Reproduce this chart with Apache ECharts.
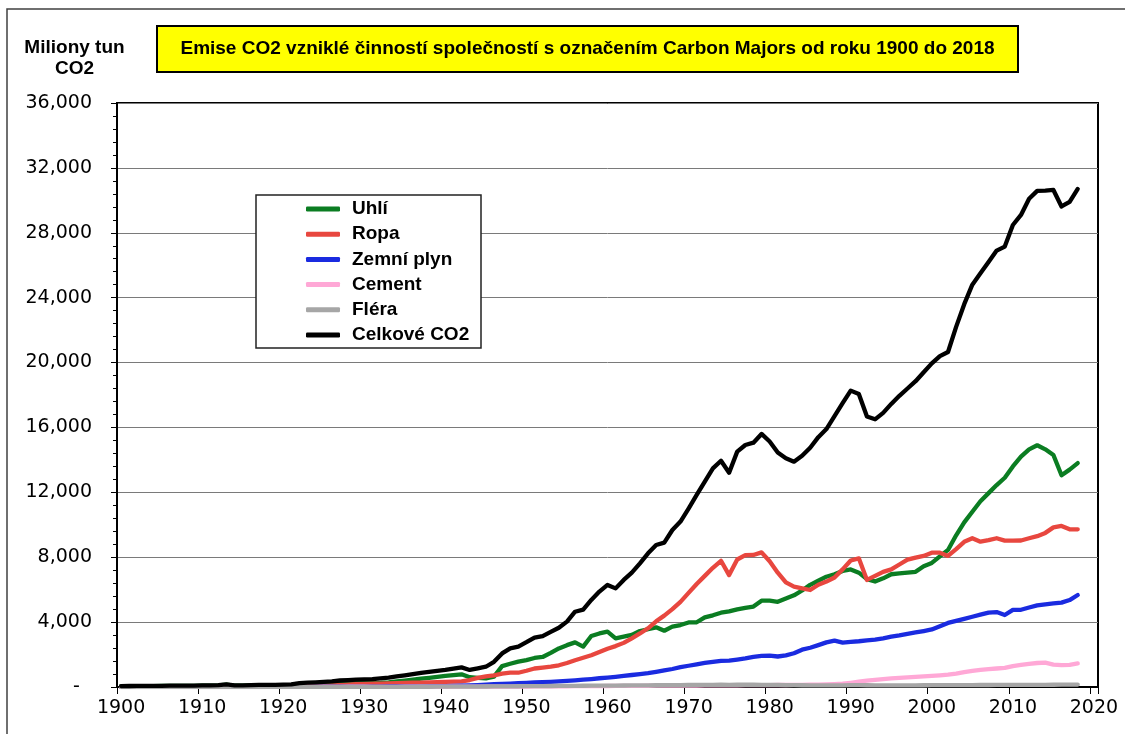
<!DOCTYPE html>
<html>
<head>
<meta charset="utf-8">
<script src="https://cdn.jsdelivr.net/npm/echarts@6/dist/echarts.min.js"></script>
<style>
html,body{margin:0;padding:0;background:#fff;}
#chart{width:1125px;height:734px;}
</style>
</head>
<body>
<div id="chart"></div>
<script>
// Category labels (years) for the x axis
const years = [
1900,1901,1902,1903,1904,1905,1906,1907,1908,1909,
1910,1911,1912,1913,1914,1915,1916,1917,1918,1919,
1920,1921,1922,1923,1924,1925,1926,1927,1928,1929,
1930,1931,1932,1933,1934,1935,1936,1937,1938,1939,
1940,1941,1942,1943,1944,1945,1946,1947,1948,1949,
1950,1951,1952,1953,1954,1955,1956,1957,1958,1959,
1960,1961,1962,1963,1964,1965,1966,1967,1968,1969,
1970,1971,1972,1973,1974,1975,1976,1977,1978,1979,
1980,1981,1982,1983,1984,1985,1986,1987,1988,1989,
1990,1991,1992,1993,1994,1995,1996,1997,1998,1999,
2000,2001,2002,2003,2004,2005,2006,2007,2008,2009,
2010,2011,2012,2013,2014,2015,2016,2017,2018,2019,
2020];

// Values, million tonnes CO2, 1900-2018
const coal = [
50,52,55,58,60,62,66,70,68,72,
78,82,95,150,90,85,92,98,100,102,
110,105,150,170,180,190,200,220,230,245,
250,245,260,290,340,400,450,510,560,620,
680,730,780,600,560,530,640,1290,1430,1560,
1660,1790,1850,2100,2380,2580,2750,2490,3140,3300,
3410,3000,3100,3210,3450,3560,3680,3470,3720,3820,
3980,3990,4290,4420,4580,4660,4790,4880,4960,5320,
5320,5250,5450,5650,5950,6300,6550,6800,6950,7150,
7250,7050,6650,6500,6700,6950,7000,7050,7100,7450,
7650,8050,8450,9350,10150,10800,11450,11950,12450,12900,
13600,14200,14650,14900,14650,14300,13050,13400,13800];

const oil = [
5,5,6,6,7,8,9,10,11,12,
14,16,18,20,20,22,25,28,30,33,
40,45,55,70,80,90,105,120,140,170,
190,200,210,220,235,250,265,270,285,300,
315,330,345,430,560,650,720,830,880,880,
1000,1140,1200,1260,1340,1480,1650,1800,1960,2160,
2360,2520,2720,3000,3300,3620,4050,4400,4800,5250,
5800,6350,6850,7350,7780,6900,7860,8130,8140,8300,
7750,7050,6450,6190,6080,5980,6300,6500,6750,7250,
7800,7930,6600,6850,7100,7250,7550,7850,7980,8080,
8280,8280,8080,8500,8950,9170,8960,9050,9170,9020,
9020,9030,9170,9300,9500,9840,9930,9720,9720];

const gas = [
2,2,2,3,3,3,3,4,4,4,
5,5,5,6,6,6,7,7,8,8,
9,10,11,12,14,16,18,20,22,24,
26,27,28,30,33,36,40,44,48,52,
60,70,80,95,120,150,170,185,210,230,
250,280,300,320,350,380,410,450,490,540,
580,630,690,740,790,850,930,1020,1110,1220,
1310,1400,1480,1550,1610,1630,1690,1760,1850,1920,
1940,1880,1950,2080,2300,2420,2580,2750,2860,2740,
2780,2820,2880,2920,3000,3100,3180,3280,3360,3450,
3550,3750,3950,4080,4200,4330,4460,4580,4620,4440,
4750,4760,4900,5030,5100,5150,5200,5360,5670];

const cement = [
3,3,3,3,4,4,4,4,4,5,
5,5,5,6,5,5,5,6,6,6,
7,7,8,9,10,11,12,13,14,15,
14,12,11,12,13,15,17,18,18,20,
20,21,22,20,18,17,20,24,27,28,
30,33,36,40,43,46,50,53,56,60,
62,64,67,70,73,76,79,82,85,88,
90,93,96,100,102,104,107,110,114,118,
120,122,124,128,132,140,150,160,180,200,
260,330,390,440,490,530,560,590,620,650,
680,720,760,830,920,990,1060,1100,1140,1180,
1290,1360,1430,1480,1500,1380,1350,1360,1450];

const flaring = [
0,0,0,0,0,0,0,0,0,0,
1,1,1,1,1,1,1,1,2,2,
2,3,3,4,4,5,5,6,6,7,
8,8,9,10,11,12,13,14,15,17,
18,20,22,24,26,30,34,38,42,46,
50,54,58,62,66,70,74,78,80,82,
85,88,92,96,100,104,108,112,116,120,
124,128,132,136,138,136,138,140,138,135,
130,125,118,112,108,104,102,102,104,106,
110,110,108,106,104,104,104,105,106,108,
110,112,114,116,118,120,122,124,125,126,
128,130,132,134,136,140,144,148,152];

const total = [
60,62,65,68,72,75,80,85,83,88,
95,100,115,165,100,105,115,125,130,135,
150,160,240,270,290,320,350,400,430,460,
470,480,530,580,650,720,800,870,930,1000,
1050,1130,1210,1050,1150,1250,1550,2070,2380,2490,
2760,3050,3140,3400,3650,4030,4640,4770,5370,5880,
6290,6080,6600,7050,7620,8240,8750,8900,9680,10200,
11000,11840,12660,13480,13950,13210,14510,14920,15060,15600,
15130,14450,14100,13890,14250,14750,15400,15900,16700,17500,
18270,18060,16670,16500,16900,17450,17950,18400,18850,19400,
19950,20400,20650,22200,23600,24800,25500,26200,26900,27150,
28480,29100,30100,30580,30600,30640,29620,29900,30700];

const seriesNames = ['Uhlí','Ropa','Zemní plyn','Cement','Fléra','Celkové CO2'];
const seriesColors = ['#0b7d22','#e8473f','#1a2be0','#ffa8d6','#a6a6a6','#000000'];
const seriesData = [coal, oil, gas, cement, flaring, total];

const titleText = 'Emise CO2 vzniklé činností společností s označením Carbon Majors od roku 1900 do 2018';
const yAxisTitle = 'Miliony tun\nCO2';

const chart = echarts.init(document.getElementById('chart'), null, {renderer: 'canvas'});

const series = seriesNames.map((name, i) => ({
  name: name,
  type: 'line',
  data: seriesData[i],
  showSymbol: false,
  symbol: 'none',
  color: seriesColors[i],
  lineStyle: {color: seriesColors[i], width: 4.3, cap: 'round', join: 'round'},
  z: 2 + i * 0.01,
  animation: false
}));

const option = {
  animation: false,
  backgroundColor: '#ffffff',
  grid: {
    left: 117, right: 27, top: 103, bottom: 47,
    show: true, borderColor: '#000', borderWidth: 2, backgroundColor: '#fff'
  },
  xAxis: {
    type: 'category',
    data: years,
    boundaryGap: true,
    axisLine: {show: true, lineStyle: {color: '#000', width: 2}},
    axisTick: {show: true, interval: 9, length: 7, lineStyle: {color: '#000', width: 1}},
    axisLabel: {
      interval: 9, margin: 12,
      fontFamily: '"DejaVu Sans", Verdana, sans-serif', fontSize: 19, color: '#000'
    },
    splitLine: {show: false}
  },
  yAxis: {
    type: 'value',
    min: 0, max: 36000, interval: 4000,
    axisLine: {show: true, lineStyle: {color: '#000', width: 2}},
    axisTick: {show: true, length: 6, lineStyle: {color: '#000', width: 1}},
    minorTick: {show: true, splitNumber: 5, length: 4, lineStyle: {color: '#000', width: 1}},
    axisLabel: {
      margin: 25,
      fontFamily: '"DejaVu Sans", Verdana, sans-serif', fontSize: 19, color: '#000',
      formatter: v => v === 0 ? '-  ' : v.toLocaleString('en-US')
    },
    splitLine: {show: true, lineStyle: {color: '#7a7a7a', width: 1}}
  },
  legend: {
    orient: 'vertical',
    left: 306, top: 199,
    padding: 0,
    itemWidth: 34, itemHeight: 5, itemGap: 5.2,
    icon: 'roundRect',
    z: 20,
    data: seriesNames,
    textStyle: {
      fontFamily: '"Liberation Sans", Arial, sans-serif', fontWeight: 'bold',
      fontSize: 19, color: '#000', lineHeight: 20, padding: [0, 0, 0, 7]
    }
  },
  graphic: [
    {type: 'rect', silent: true, z: -1, zlevel: 0,
     shape: {x: 7, y: 9, width: 1200, height: 800},
     style: {fill: 'none', stroke: '#404040', lineWidth: 1.5}},
    {type: 'rect', silent: true, z: 5,
     shape: {x: 157, y: 26, width: 861, height: 46},
     style: {fill: '#ffff00', stroke: '#000', lineWidth: 2}},
    {type: 'text', silent: true, z: 6,
     style: {text: titleText, x: 587.5, y: 49, textAlign: 'center', textVerticalAlign: 'middle',
             font: 'bold 19px "Liberation Sans", Arial, sans-serif', fill: '#000'}},
    {type: 'text', silent: true, z: 6,
     style: {text: yAxisTitle, x: 74.5, y: 37, textAlign: 'center', textVerticalAlign: 'top',
             font: 'bold 19px "Liberation Sans", Arial, sans-serif', lineHeight: 21, fill: '#000'}},
    {type: 'rect', silent: true, z: 15,
     shape: {x: 256, y: 195, width: 225, height: 153},
     style: {fill: '#fff', stroke: '#222', lineWidth: 1.5}}
  ],
  series: series
};

chart.setOption(option);
</script>
</body>
</html>
